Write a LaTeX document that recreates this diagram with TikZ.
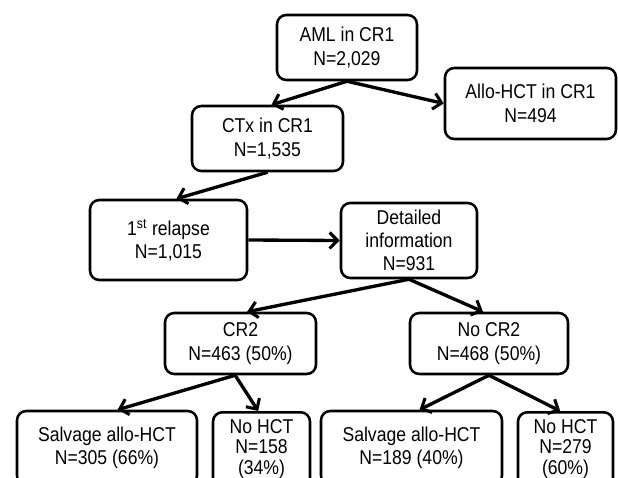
\documentclass[tikz,border=0pt]{standalone}
\usepackage{fontspec}
\setmainfont[FakeStretch=0.88]{Liberation Sans}
\usetikzlibrary{arrows.meta}

\newcommand{\threelines}[3]{\parbox[c][60pt][t]{60pt}{\centering\baselineskip=15.5pt #1\\#2\\#3}}

\begin{document}
\begin{tikzpicture}[x=0.75pt, y=-0.75pt,
    box/.style={draw, line width=1.9pt, rounded corners=7pt, align=center,
      inner sep=0pt, font=\fontsize{15}{17.5}\selectfont},
    narrowbox/.style={box, anchor=north, inner sep=5.25pt},
    arr/.style={line width=2.5pt,
      -{Straight Barb[length=6pt, width=12pt, line width=2.3pt]}}]
  \useasboundingbox (0,0) rectangle (618,478);
  \clip (0,0) rectangle (618,478);

  \node[box, minimum width=105pt, minimum height=48.75pt] (aml) at (347,47.5) {AML in CR1\\N=2,029};
  \node[box, minimum width=128.25pt, minimum height=53.25pt] (allo) at (530.5,103.5) {Allo-HCT in CR1\\N=494};
  \node[box, minimum width=113.25pt, minimum height=48.75pt] (ctx) at (267.5,138.5) {CTx in CR1\\N=1,535};
  \node[box, minimum width=117.75pt, minimum height=60pt] (relapse) at (168.5,240) {1\textsuperscript{st} relapse\\N=1,015};
  \node[box, minimum width=102pt, minimum height=56.25pt] (info) at (409,240.5) {Detailed\\information\\N=931};
  \node[box, minimum width=113.25pt, minimum height=45.75pt] (cr) at (240.5,343.5) {CR2\\N=463 (50\%)};
  \node[box, minimum width=118.5pt, minimum height=45.75pt] (nocr) at (489,343.5) {No CR2\\N=468 (50\%)};
  \node[box, minimum width=135pt, minimum height=55.5pt] (salvA) at (107,448) {Salvage allo-HCT\\N=305 (66\%)};
  \node[narrowbox, minimum width=72.75pt] (nohctA) at (261.5,411) {\threelines{No HCT}{N=158}{(34\%)}};
  \node[box, minimum width=135.75pt, minimum height=55.5pt] (salvB) at (411.5,448) {Salvage allo-HCT\\N=189 (40\%)};
  \node[narrowbox, minimum width=71.25pt] (nohctB) at (565.5,411) {\threelines{No HCT}{N=279}{(60\%)}};

  \draw[arr] (aml.south) -- (allo.west);
  \draw[arr] (relapse.east) -- (info.west);
  \foreach \from/\to/\shift in {aml.south/ctx.north/3pt, ctx.south/relapse.north/6pt,
      info.south/cr.north/5pt, info.south/nocr.north/-4.5pt,
      nocr.south/salvB.north/6pt, nocr.south/nohctB.north/-4pt}
    \draw[arr] (\from) -- ([xshift=\shift]\to);
  \foreach \to/\shift in {salvA/8pt, nohctA/-2.5pt}
    \draw[arr] ([xshift=-4pt]cr.south) -- ([xshift=\shift]\to.north);
\end{tikzpicture}
\end{document}
